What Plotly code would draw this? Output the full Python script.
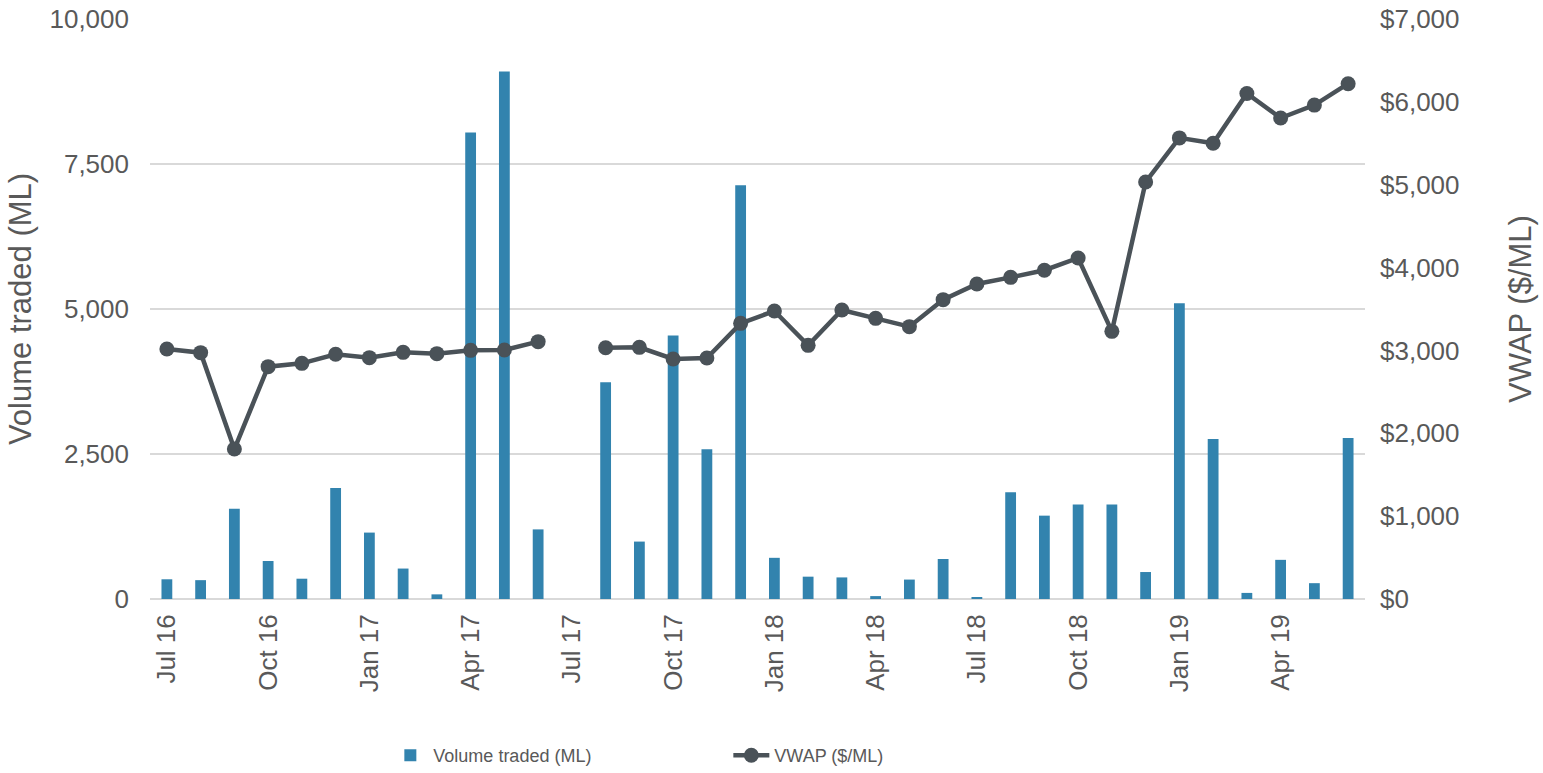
import plotly.graph_objects as go

months = ["Jul 16", "Aug 16", "Sep 16", "Oct 16", "Nov 16", "Dec 16",
          "Jan 17", "Feb 17", "Mar 17", "Apr 17", "May 17", "Jun 17",
          "Jul 17", "Aug 17", "Sep 17", "Oct 17", "Nov 17", "Dec 17",
          "Jan 18", "Feb 18", "Mar 18", "Apr 18", "May 18", "Jun 18",
          "Jul 18", "Aug 18", "Sep 18", "Oct 18", "Nov 18", "Dec 18",
          "Jan 19", "Feb 19", "Mar 19", "Apr 19", "May 19", "Jun 19"]

volume_ml = [340, 325, 1555, 655, 350, 1915,
             1145, 525, 80, 8045, 9095, 1200,
             None, 3738, 990, 4545, 2580, 7135,
             710, 385, 372, 50, 335, 690,
             25, 1840, 1437, 1630, 1630, 465,
             5100, 2760, 105, 675, 273, 2775]

vwap = [3017, 2973, 1810, 2804, 2844, 2953,
        2913, 2977, 2961, 3001, 3005, 3106,
        None, 3033, 3037, 2897, 2909, 3327,
        3476, 3061, 3488, 3387, 3287, 3613,
        3802, 3882, 3968, 4116, 3230, 5033,
        5565, 5501, 6101, 5805, 5961, 6219]

tick_labels = ["Jul 16", "Oct 16", "Jan 17", "Apr 17", "Jul 17", "Oct 17",
               "Jan 18", "Apr 18", "Jul 18", "Oct 18", "Jan 19", "Apr 19"]

vol_ticks = [0, 2500, 5000, 7500, 10000]
vwap_ticks = [0, 1000, 2000, 3000, 4000, 5000, 6000, 7000]

BAR = "#3283ae"
LINE = "#4a5258"
TXT = "#595959"
FONT = "Liberation Sans, Arial, sans-serif"

fig = go.Figure()
fig.add_trace(go.Bar(
    x=months, y=volume_ml, name="Volume traded (ML)",
    marker=dict(color=BAR, line=dict(width=0)), width=0.32,
    yaxis="y"))
fig.add_trace(go.Scatter(
    x=months, y=vwap, name="VWAP ($/ML)", mode="lines+markers",
    line=dict(color=LINE, width=4.5), marker=dict(color=LINE, size=15),
    connectgaps=False, yaxis="y2"))

fig.update_layout(
    width=1543, height=773,
    margin=dict(l=150, r=178, t=19, b=174, autoexpand=False),
    paper_bgcolor="white", plot_bgcolor="white",
    font=dict(family=FONT, size=26, color=TXT),
    showlegend=True,
    legend=dict(orientation="h", x=0.476, xanchor="center", y=-0.27, yanchor="middle",
                font=dict(size=18, color=TXT), entrywidth=290, entrywidthmode="pixels",
                itemwidth=36, bgcolor="rgba(0,0,0,0)"),
    xaxis=dict(type="category", tickmode="array", tickvals=tick_labels, ticktext=tick_labels,
               tickangle=-90, showgrid=False, showline=False, zeroline=False,
               ticks="", ticklabelstandoff=9, range=[-0.5, 35.5], automargin=False),
    yaxis=dict(range=[0, 10000], tickmode="array", tickvals=vol_ticks,
               ticktext=[f"{v:,}" for v in vol_ticks],
               showgrid=True, gridcolor="#d9d9d9", gridwidth=1.5, zeroline=True,
               zerolinecolor="#d9d9d9", zerolinewidth=2, showline=False, ticks="",
               ticklabelstandoff=20, automargin=False, ticklabeloverflow="allow",
               title=dict(text="Volume traded (ML)", standoff=8)),
    yaxis2=dict(range=[0, 7000], tickmode="array", tickvals=vwap_ticks,
                ticktext=[f"${v:,}" for v in vwap_ticks],
                overlaying="y", side="right",
                showgrid=False, zeroline=False, showline=False, ticks="",
                ticklabelstandoff=14, automargin=False, ticklabeloverflow="allow",
                title=dict(text="VWAP ($/ML)", standoff=50)),
)

fig.write_html("out.html", config={"displayModeBar": False},
               post_script="document.body.style.margin='0';document.body.style.overflow='hidden';")
